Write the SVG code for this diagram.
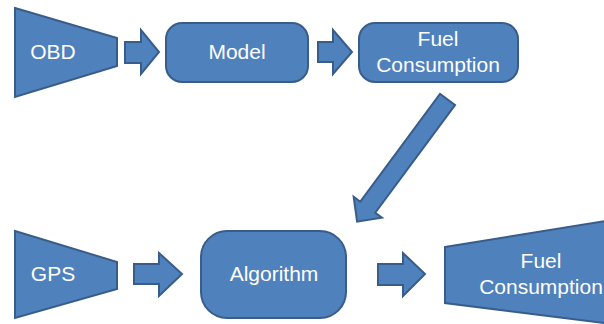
<svg xmlns="http://www.w3.org/2000/svg" width="604" height="324" viewBox="0 0 604 324">
  <style>
    .shape { fill: #4f81bd; stroke: #385d8a; stroke-width: 2; stroke-linejoin: miter; }
    .label { fill: #ffffff; font-family: "Liberation Sans", Arial, sans-serif; font-size: 21px; text-anchor: middle; }
  </style>
  <rect width="604" height="324" fill="#ffffff"/>

  <!-- sources and results -->
  <g id="obd">
    <polygon class="shape" points="15,8 117,38 117,66 15,97"/>
    <text class="label" x="53" y="59">OBD</text>
  </g>
  <g id="model">
    <rect class="shape" x="166" y="23" width="142" height="59" rx="16" ry="16"/>
    <text class="label" x="237" y="59">Model</text>
  </g>
  <g id="fuel-top">
    <rect class="shape" x="359" y="23" width="159" height="59" rx="16" ry="16"/>
    <text class="label" x="438" y="46">Fuel</text>
    <text class="label" x="438" y="72">Consumption</text>
  </g>
  <g id="gps">
    <polygon class="shape" points="15,231 117,262 117,289 15,318"/>
    <text class="label" x="53" y="281">GPS</text>
  </g>
  <g id="algorithm">
    <rect class="shape" x="201" y="231" width="145" height="87" rx="26" ry="26"/>
    <text class="label" x="274" y="281">Algorithm</text>
  </g>
  <g id="fuel-bottom">
    <polygon class="shape" points="445,247 612,220 612,324 445,303"/>
    <text class="label" x="541" y="268">Fuel</text>
    <text class="label" x="541" y="294">Consumption</text>
  </g>

  <!-- block arrows -->
  <g id="connectors">
    <polygon class="shape" points="125,42 141,42 141,30 159,52 141,74 141,63 125,63"/>
    <polygon class="shape" points="318,42 333,42 333,30 352,52 333,74 333,62 318,62"/>
    <polygon class="shape" transform="translate(447.5,99.5) rotate(126.5)" points="0,-9.3 134,-9.3 134,-17.6 152,0 134,17.6 134,9.3 0,9.3"/>
    <polygon class="shape" points="134,264 159,264 159,253 182,274 159,296 159,284 134,284"/>
    <polygon class="shape" points="378,264 403,264 403,253 425,274 403,296 403,285 378,285"/>
  </g>
</svg>
